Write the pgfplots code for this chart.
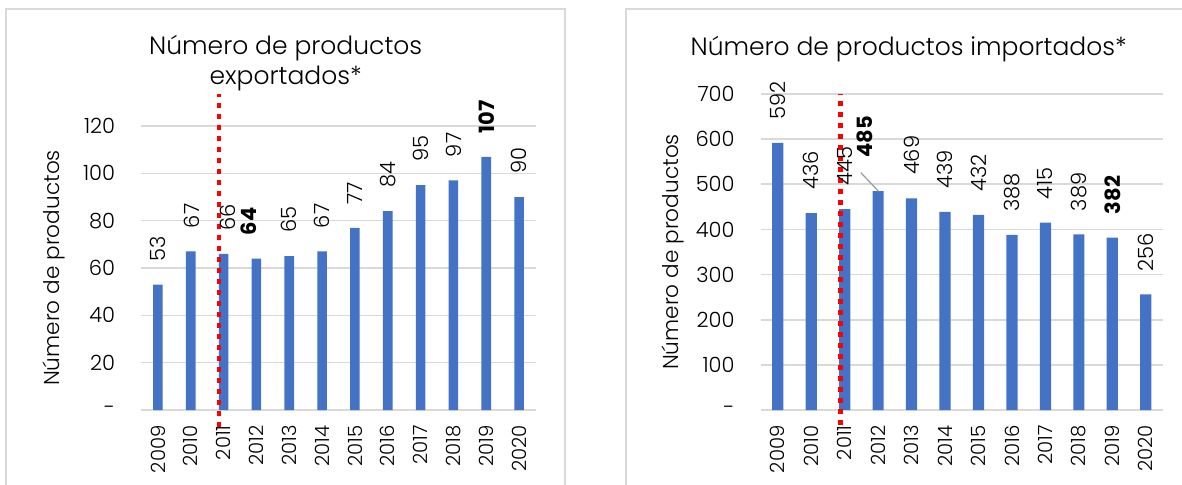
\documentclass[border=0pt]{standalone}
\usepackage{pgfplots}
\usepackage{pgfplotstable}
\pgfplotsset{compat=1.18}
\usepackage{fontspec}
\setmainfont{Poppins Light}[BoldFont=Poppins Bold]
\definecolor{barblue}{HTML}{4472C4}
\definecolor{gridgray}{HTML}{D9D9D9}
\definecolor{bordergray}{HTML}{D9D9D9}

\pgfplotstableread{
x y dx dy b
0 53 0 0 0
1 67 0.8 0 0
2 66 2 0 0
3 64 -4 0 1
4 65 0 0 0
5 67 0 0 0
6 77 0 0 0
7 84 0 0 0
8 95 0 0 0
9 97 0 0 0
10 107 0 0 1
11 90 0 0 0
}\dataexp

\pgfplotstableread{
x y dx dy b
0 592 0 0 0
1 436 0 0 0
2 445 0 0 0
3 485 -6.5 5 1
4 469 0 0 0
5 439 0 0 0
6 432 0 0 0
7 388 0 0 0
8 415 0 0 0
9 389 0 0 0
10 382 0 0 1
11 256 0 0 0
}\dataimp

\pgfplotsset{
  panel/.style={
    scale only axis,
    xmin=-0.5, xmax=11.5,
    ymin=0,
    clip=false,
    axis line style={draw=none},
    tick style={draw=none},
    major tick length=0pt,
    ymajorgrids,
    grid style={line width=0.8pt, color=gridgray},
    xtick={0,...,11},
    xticklabels={2009,2010,2011,2012,2013,2014,2015,2016,2017,2018,2019,2020},
    xticklabel style={font=\fontsize{9.8}{11}\selectfont, rotate=90, anchor=east, inner sep=0pt},
    xticklabel shift=7.5pt,
    yticklabel style={font=\fontsize{10.5}{12}\selectfont, inner sep=0pt, anchor=east, xshift=-13pt},
    /pgf/number format/assume math mode=true,
    ylabel={Número de productos},
  },
  labeledbars/.style={
    ybar, fill=barblue, draw=none,
    visualization depends on={\thisrow{dx} \as \lbldx},
    visualization depends on={\thisrow{dy} \as \lbldy},
    visualization depends on={\thisrow{b} \as \lblb},
    nodes near coords={\ifdim\lblb pt>0.5pt\bfseries\fi\pgfmathprintnumber{\pgfplotspointmeta}},
    nodes near coords style={font=\fontsize{10.5}{12}\selectfont, inner sep=0pt, xshift=\lbldx pt, yshift=11.5pt+\lbldy pt, rotate=90, anchor=west},
  },
}

\begin{document}
\begin{tikzpicture}
\useasboundingbox (0,0) rectangle (591pt,242pt);
\draw[bordergray, line width=1pt] (3pt,-10pt) rectangle (282.5pt,237.5pt);
\draw[bordergray, line width=1pt] (313pt,-10pt) rectangle (620pt,237.5pt);

\begin{axis}[panel,
  at={(70.75pt,37pt)}, anchor=south west,
  width=197pt, height=142pt,
  ymax=120,
  ytick={0,20,40,60,80,100,120},
  yticklabels={-,20,40,60,80,100,120},
  every axis y label/.style={at={(axis description cs:-0.222,0.5)}, rotate=90, anchor=center, font=\fontsize{10.8}{13}\selectfont},
  title={Número de productos\\exportados*},
  every axis title/.style={at={(axis description cs:0.366,1.222)}, anchor=center, align=center, font=\fontsize{12.5}{15}\selectfont},
]
\addplot[labeledbars, bar width=4.8pt] table[x=x,y=y] {\dataexp};
\addplot[red, line width=2.2pt, dash pattern=on 2.3pt off 3.2pt] coordinates {(1.86,-7.2) (1.86,133.5)};
\end{axis}

\begin{axis}[panel,
  at={(380.5pt,37pt)}, anchor=south west,
  width=200.75pt, height=158pt,
  ymax=700,
  ytick={0,100,200,300,400,500,600,700},
  yticklabels={-,100,200,300,400,500,600,700},
  every axis y label/.style={at={(axis description cs:-0.219,0.5)}, rotate=90, anchor=center, font=\fontsize{10.8}{13}\selectfont},
  title={Número de productos importados*},
  every axis title/.style={at={(axis description cs:0.368,1.142)}, anchor=center, align=center, font=\fontsize{12.5}{15}\selectfont},
]
\addplot[labeledbars, bar width=5.6pt] table[x=x,y=y] {\dataimp};
\addplot[red, line width=2.2pt, dash pattern=on 2.3pt off 3.2pt] coordinates {(1.88,-33) (1.88,700)};
\addplot[gray!80, line width=0.6pt] coordinates {(2.48,526) (3.02,484)};
\end{axis}
\end{tikzpicture}
\end{document}
